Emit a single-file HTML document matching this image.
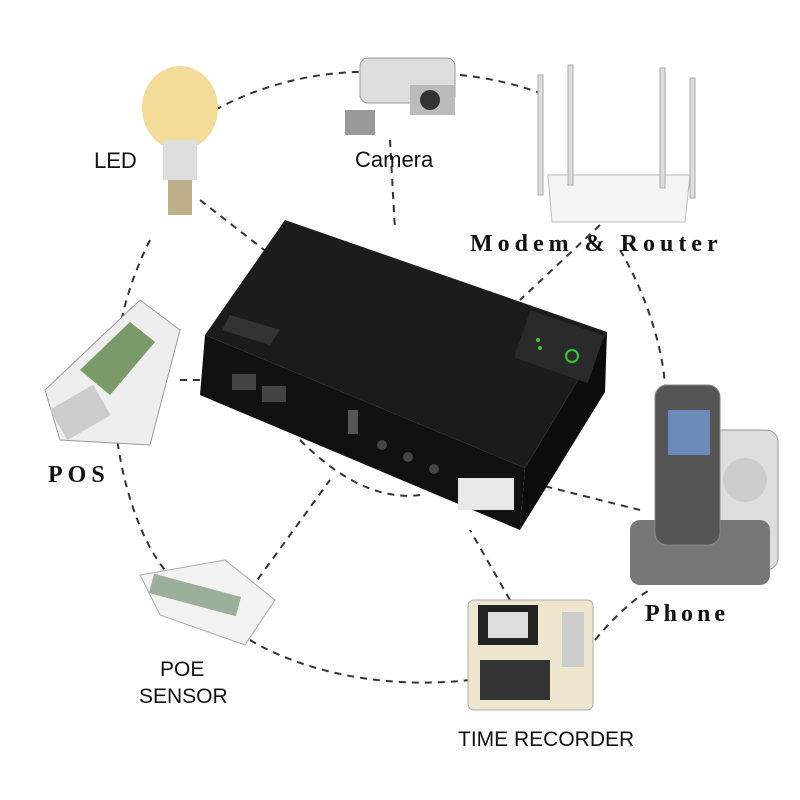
<!DOCTYPE html>
<html><head><meta charset="utf-8"><style>
html,body{margin:0;padding:0;background:#fff;}
svg{display:block;}
.sans{font-family:"Liberation Sans",sans-serif;fill:#111;}
.serif{font-family:"Liberation Serif",serif;font-weight:bold;fill:#111;}
</style></head><body>
<svg width="800" height="800" viewBox="0 0 800 800" xmlns="http://www.w3.org/2000/svg">
<rect width="800" height="800" fill="#fff"/>
<g fill="none" stroke="#333" stroke-width="2" stroke-dasharray="7 6">
  <path d="M150 240 C120 300 110 360 115 420 C120 480 140 540 165 570"/>
  <path d="M215 110 C270 80 330 70 380 72"/>
  <path d="M460 75 C490 78 520 85 545 95"/>
  <path d="M620 250 C650 300 665 360 665 390"/>
  <path d="M250 640 C300 670 380 690 470 680"/>
  <path d="M595 640 C620 610 640 595 650 590"/>
  <path d="M200 200 L290 270"/>
  <path d="M390 140 L395 230"/>
  <path d="M600 225 L520 300"/>
  <path d="M180 380 L215 380"/>
  <path d="M520 480 L640 510"/>
  <path d="M250 590 L330 480"/>
  <path d="M510 600 L470 530"/>
  <path d="M300 440 C340 480 380 500 420 495"/>
</g>
<polygon points="285,220 607,332 525,468 205,335" fill="#1c1c1c"/>
<polygon points="205,335 525,468 520,530 200,395" fill="#111"/>
<polygon points="525,468 607,332 605,392 520,530" fill="#0c0c0c"/>
<polygon points="230,315 280,330 270,345 222,330" fill="#333"/>
<rect x="520" y="322" width="78" height="50" fill="#2a2a2a" transform="rotate(19 560 347)"/>
<circle cx="572" cy="356" r="6" fill="none" stroke="#3c3" stroke-width="2"/>
<circle cx="538" cy="340" r="2" fill="#3c3"/><circle cx="540" cy="348" r="2" fill="#3c3"/>
<rect x="232" y="374" width="24" height="16" fill="#444"/>
<rect x="262" y="386" width="24" height="16" fill="#444"/>
<rect x="348" y="410" width="10" height="24" fill="#555"/>
<circle cx="382" cy="445" r="5" fill="#444"/><circle cx="408" cy="457" r="5" fill="#444"/><circle cx="434" cy="469" r="5" fill="#444"/>
<rect x="458" y="478" width="56" height="32" fill="#e8e8e8"/>
<ellipse cx="180" cy="108" rx="38" ry="42" fill="#f3dc98"/>
<rect x="163" y="140" width="34" height="40" fill="#ddd"/>
<rect x="168" y="180" width="24" height="35" fill="#bfae8a"/>
<rect x="360" y="58" width="95" height="45" rx="8" fill="#ddd" stroke="#999"/>
<rect x="410" y="85" width="45" height="30" fill="#bbb"/>
<circle cx="430" cy="100" r="10" fill="#333"/>
<rect x="345" y="110" width="30" height="25" fill="#999"/>
<polygon points="548,175 690,175 685,222 552,222" fill="#f4f4f4" stroke="#bbb"/>
<rect x="538" y="75" width="5" height="120" fill="#ddd" stroke="#aaa"/>
<rect x="568" y="65" width="5" height="120" fill="#ddd" stroke="#aaa"/>
<rect x="660" y="68" width="5" height="120" fill="#ddd" stroke="#aaa"/>
<rect x="690" y="78" width="5" height="120" fill="#ddd" stroke="#aaa"/>
<polygon points="45,390 140,300 180,330 150,445 60,440" fill="#eee" stroke="#999"/>
<polygon points="80,370 130,322 155,342 110,395" fill="#7a9a6a"/>
<rect x="55" y="395" width="50" height="35" fill="#ccc" transform="rotate(-30 80 412)"/>
<rect x="700" y="430" width="78" height="140" rx="12" fill="#ddd" stroke="#999"/>
<rect x="630" y="520" width="140" height="65" rx="10" fill="#777"/>
<rect x="655" y="385" width="65" height="160" rx="12" fill="#555" stroke="#888"/>
<rect x="668" y="410" width="42" height="45" fill="#6a8ab8"/>
<circle cx="745" cy="480" r="22" fill="#ccc"/>
<polygon points="140,575 225,560 275,600 245,645 160,615" fill="#f2f2f2" stroke="#aaa"/>
<rect x="150" y="585" width="90" height="20" fill="#9ab09a" transform="rotate(15 195 595)"/>
<rect x="468" y="600" width="125" height="110" rx="6" fill="#efe6cf" stroke="#aaa"/>
<rect x="478" y="605" width="60" height="40" fill="#222"/>
<rect x="488" y="612" width="40" height="26" fill="#ddd"/>
<rect x="562" y="612" width="22" height="55" fill="#ccc"/>
<rect x="480" y="660" width="70" height="40" fill="#333"/>
<text x="94" y="168" class="sans" font-size="22">LED</text>
<text x="355" y="167" class="sans" font-size="22">Camera</text>
<text x="470" y="251" class="serif" font-size="24" letter-spacing="5">Modem &amp; Router</text>
<text x="48" y="482" class="serif" font-size="24" letter-spacing="5">POS</text>
<text x="645" y="621" class="serif" font-size="24" letter-spacing="4">Phone</text>
<text x="160" y="676" class="sans" font-size="21">POE</text>
<text x="139" y="703" class="sans" font-size="21">SENSOR</text>
<text x="458" y="746" class="sans" font-size="21">TIME RECORDER</text>
</svg>
</body></html>
